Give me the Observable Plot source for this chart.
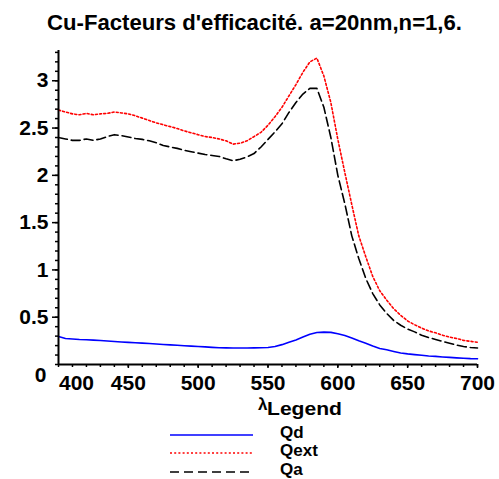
<!DOCTYPE html>
<html>
<head>
<meta charset="utf-8">
<script src="https://cdn.jsdelivr.net/npm/d3@7"></script>
<script src="https://cdn.jsdelivr.net/npm/@observablehq/plot@0.6"></script>
<style>
  html, body { margin: 0; padding: 0; background: #fff; }
  svg { display: block; }
</style>
</head>
<body>
<div id="chart"></div>
<script>
const titleText = "Cu-Facteurs d'efficacité. a=20nm,n=1,6.";
const lambda = [400,405,410,415,420,425,430,435,440,445,450,455,460,465,470,475,480,485,490,495,
  500,505,510,515,520,525,530,535,540,545,550,555,560,565,570,575,580,585,590,595,
  600,605,610,615,620,625,630,635,640,645,650,655,660,665,670,675,680,685,690,695,700];
const Qd = [0.296,0.275,0.27,0.265,0.262,0.258,0.253,0.248,0.243,0.238,0.234,0.23,0.226,0.222,0.217,0.212,0.208,0.203,0.198,0.194,
  0.19,0.186,0.181,0.177,0.176,0.175,0.175,0.175,0.176,0.177,0.18,0.19,0.21,0.235,0.26,0.29,0.32,0.338,0.342,0.34,
  0.325,0.307,0.28,0.25,0.225,0.195,0.17,0.155,0.138,0.122,0.112,0.104,0.097,0.09,0.086,0.08,0.075,0.07,0.066,0.062,0.06];
const Qext = [2.69,2.67,2.65,2.64,2.655,2.64,2.65,2.655,2.67,2.66,2.65,2.63,2.605,2.58,2.555,2.535,2.515,2.495,2.47,2.45,
  2.43,2.41,2.40,2.385,2.365,2.33,2.34,2.365,2.41,2.455,2.53,2.62,2.72,2.84,2.96,3.09,3.20,3.24,3.05,2.77,
  2.38,2.03,1.69,1.36,1.14,0.93,0.78,0.68,0.59,0.52,0.46,0.42,0.385,0.355,0.335,0.31,0.29,0.275,0.255,0.245,0.235];
const Qa = [2.40,2.385,2.37,2.37,2.385,2.37,2.385,2.41,2.43,2.42,2.405,2.39,2.38,2.365,2.345,2.315,2.30,2.285,2.265,2.25,
  2.235,2.22,2.21,2.20,2.175,2.155,2.17,2.195,2.23,2.30,2.38,2.46,2.545,2.665,2.77,2.86,2.92,2.92,2.72,2.40,
  2.00,1.70,1.36,1.12,0.91,0.75,0.63,0.54,0.465,0.415,0.375,0.345,0.31,0.285,0.265,0.245,0.225,0.205,0.19,0.18,0.175];
const seriesNames = ["Qd", "Qext", "Qa"];
const seriesColors = ["#0000ff", "#ff0000", "#000000"];
const seriesDash = [null, "2,2.2", "9,4"];
const xTicksMajor = [450, 500, 550, 600, 650, 700];
const xTicksMinor = d3.range(400, 701, 10);
const yTicksMajor = [0.5, 1, 1.5, 2, 2.5, 3];
const yTicksMinor = d3.range(0, 3.31, 0.1);
const xLabel = "λ";
const legendTitle = "Legend";

const FONT = "Liberation Sans, Arial, Helvetica, sans-serif";
const root = d3.select("#chart");

// Title
const tsvg = root.append("svg").attr("width", 499).attr("height", 40);
tsvg.append("text").attr("x", 47).attr("y", 30)
  .attr("font-family", FONT).attr("font-weight", "bold").attr("font-size", 22)
  .attr("textLength", 415).attr("lengthAdjust", "spacingAndGlyphs")
  .text(titleText);

const allSeries = [Qd, Qext, Qa];
const rows = [];
seriesNames.forEach((name, i) => {
  lambda.forEach((l, j) => rows.push({lambda: l, value: allSeries[i][j], series: name}));
});

const marks = [];
seriesNames.forEach((name, i) => {
  marks.push(Plot.line(rows.filter(r => r.series === name), {
    x: "lambda", y: "value", stroke: seriesColors[i], strokeWidth: 1.6,
    strokeDasharray: seriesDash[i] || undefined
  }));
});

const noLabel = () => "";
const plot = Plot.plot({
  width: 499, height: 355,
  marginLeft: 58, marginRight: 22, marginTop: 10, marginBottom: 31,
  x: {domain: [400, 700]},
  y: {domain: [0, 3.32]},
  style: {fontFamily: FONT, fontWeight: "bold", fontSize: "21px", color: "#000", background: "#fff"},
  marks: [
    ...marks,
    Plot.axisX(xTicksMinor, {tickSize: 3, tickFormat: noLabel, strokeWidth: 1.5, label: null}),
    Plot.axisX(xTicksMajor, {tickSize: 4, tickPadding: 7, strokeWidth: 1.5, fontSize: 21, fontWeight: "bold", tickFormat: d => String(d), label: null}),
    Plot.text([400], {x: d => d, y: 0, text: d => String(d), dx: 18, dy: 19, fontSize: 21, fontWeight: "bold"}),
    Plot.axisY(yTicksMinor, {tickSize: 3, tickFormat: noLabel, strokeWidth: 1.5, label: null}),
    Plot.axisY(yTicksMajor, {tickSize: 6, tickPadding: 4, strokeWidth: 1.5, fontSize: 21, fontWeight: "bold", tickFormat: d => String(d), label: null}),
    Plot.text([0], {x: 400, y: d => d, text: d => String(d), textAnchor: "end", dx: -12, dy: 11, fontSize: 21, fontWeight: "bold"}),
    Plot.ruleX([400], {y1: 0, y2: 3.32, stroke: "#000", strokeWidth: 2}),
    Plot.ruleY([0], {x1: 400, x2: 700, stroke: "#000", strokeWidth: 2})
  ]
});
root.node().appendChild(plot);

// Axis label and legend
const lsvg = root.append("svg").attr("width", 499).attr("height", 84);
lsvg.append("text").attr("x", 258).attr("y", 15)
  .attr("font-family", FONT).attr("font-weight", "bold").attr("font-size", 17).text(xLabel);
lsvg.append("text").attr("x", 267).attr("y", 20)
  .attr("font-family", FONT).attr("font-weight", "bold").attr("font-size", 19)
  .attr("textLength", 75).attr("lengthAdjust", "spacingAndGlyphs").text(legendTitle);
const lineY = [40, 58, 77];
const textY = [43, 61, 80];
seriesNames.forEach((name, i) => {
  lsvg.append("line").attr("x1", 170).attr("x2", 253).attr("y1", lineY[i]).attr("y2", lineY[i])
    .attr("stroke", seriesColors[i]).attr("stroke-width", 1.6)
    .attr("stroke-dasharray", i === 2 ? "9,5" : seriesDash[i]);
  lsvg.append("text").attr("x", 280).attr("y", textY[i])
    .attr("font-family", FONT).attr("font-weight", "bold").attr("font-size", 17).text(name);
});
</script>
</body>
</html>
